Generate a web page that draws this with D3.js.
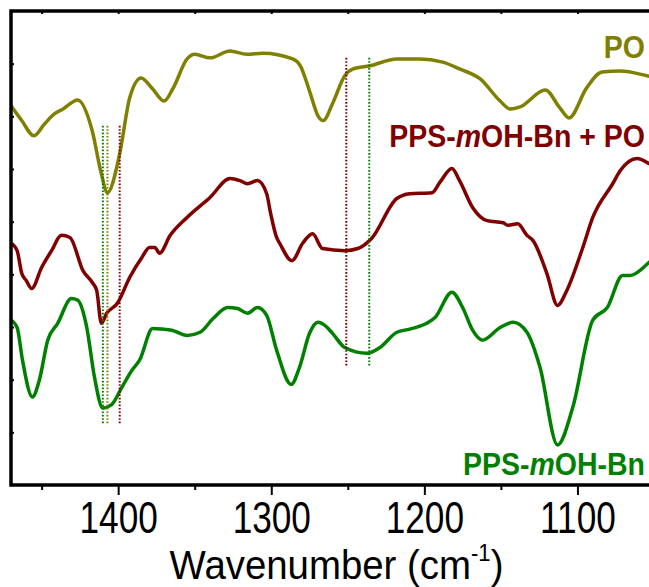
<!DOCTYPE html>
<html>
<head>
<meta charset="utf-8">
<script src="https://cdn.jsdelivr.net/npm/d3@7"></script>
<style>
  body { margin: 0; background: #fff; }
  svg { display: block; font-family: "Liberation Sans", Arial, sans-serif; }
</style>
</head>
<body>
<div id="chart"></div>
<script>
// wavenumber (cm-1) / transmittance (a.u., offset)
const poWave = [1470, 1463, 1455, 1448, 1441.5, 1436, 1426.5, 1417, 1411, 1407, 1399, 1392.5, 1385, 1378, 1370, 1364, 1355, 1350, 1340, 1327, 1316, 1305.5, 1286, 1281, 1275, 1269.5, 1266, 1260, 1252, 1246.5, 1235.5, 1218, 1203, 1188, 1177, 1163.5, 1150.5, 1144, 1137.5, 1121, 1111.5, 1105.5, 1094, 1084, 1072, 1054.5, 1050];
const poVal  = [7.20, 6.92, 6.63, 6.86, 7.05, 7.14, 7.31, 6.73, 5.91, 5.55, 6.29, 7.35, 7.73, 7.54, 7.29, 7.54, 8.09, 8.18, 8.11, 8.24, 8.18, 8.20, 8.09, 7.96, 7.48, 7.01, 6.92, 7.24, 7.77, 7.90, 7.96, 8.09, 8.09, 8.03, 7.90, 7.71, 7.29, 7.14, 7.18, 7.50, 7.16, 6.97, 7.54, 7.84, 7.86, 7.77, 7.74];

const mixWave = [1470, 1466, 1463, 1460, 1456.5, 1450, 1443.5, 1437, 1431.5, 1423, 1416.5, 1414, 1411, 1407.5, 1400.5, 1392.5, 1384.5, 1379.5, 1376, 1373, 1366, 1355, 1340, 1327, 1320.5, 1315.5, 1309, 1303, 1300.5, 1296.5, 1294.5, 1286.5, 1279.5, 1273, 1266.5, 1252, 1243.5, 1234.5, 1218, 1209.5, 1195, 1190, 1182, 1177, 1168.5, 1159, 1148.5, 1145.5, 1139, 1133, 1129, 1120, 1113, 1107, 1096.5, 1090, 1077, 1072, 1061, 1053, 1050];
const mixVal  = [4.59, 4.45, 4.02, 3.88, 3.73, 4.13, 4.45, 4.74, 4.70, 4.07, 3.83, 3.69, 3.07, 3.26, 3.45, 3.94, 4.32, 4.51, 4.51, 4.40, 4.74, 5.08, 5.46, 5.82, 5.78, 5.72, 5.78, 5.53, 5.17, 4.70, 4.59, 4.26, 4.59, 4.77, 4.49, 4.45, 4.49, 4.68, 5.44, 5.53, 5.55, 5.74, 6.01, 5.78, 5.27, 5.02, 4.98, 4.93, 4.96, 4.74, 4.64, 4.02, 3.41, 3.69, 4.51, 5.08, 5.72, 5.97, 6.20, 6.10, 6.05];

const ppsWave = [1470, 1466, 1462.5, 1456, 1451.5, 1446, 1439.5, 1430.5, 1426.5, 1420.5, 1415.5, 1410, 1404.5, 1397.5, 1391, 1386, 1377.5, 1371.5, 1365, 1355, 1346.5, 1338, 1328.5, 1322, 1315.5, 1309, 1303, 1296.5, 1287, 1281.5, 1275, 1269.5, 1265, 1260, 1252, 1237.5, 1229, 1218, 1209.5, 1198.5, 1193, 1182, 1175, 1168.5, 1162, 1150.5, 1142, 1133, 1124.5, 1113, 1103, 1090, 1080.5, 1070.5, 1065.5, 1053, 1050];
const ppsVal  = [3.13, 2.99, 2.37, 1.67, 1.99, 2.75, 3.07, 3.54, 3.51, 2.99, 2.05, 1.46, 1.52, 1.86, 2.18, 2.37, 2.97, 2.96, 2.94, 2.84, 2.90, 3.16, 3.37, 3.35, 3.26, 3.37, 3.22, 2.56, 1.91, 2.24, 2.88, 3.09, 3.03, 2.88, 2.61, 2.50, 2.61, 2.90, 2.96, 3.07, 3.18, 3.66, 3.37, 2.94, 2.75, 2.99, 3.09, 2.90, 2.24, 0.76, 1.48, 3.13, 3.37, 3.98, 3.98, 4.23, 4.30];

// dotted marker lines: wavenumber, colour key, y from / to
const markWave = [1410, 1407, 1399, 1251, 1236];
const markKey  = ["pps", "po", "mix", "mix", "pps"];
const markLow  = [1.14, 1.14, 1.14, 2.24, 2.24];
const markHigh = [6.82, 6.82, 6.82, 8.11, 8.11];

const majorTicks = [1400, 1300, 1200, 1100];
const minorTicks = [1450, 1350, 1250, 1150];
const topTicks   = [1450, 1400, 1350, 1300, 1250, 1200, 1150, 1100];
const yTicks     = [1, 2, 3, 4, 5, 6, 7, 8];

const colors = { po: "#808000", mix: "#800000", pps: "#008000" };

const width = 649, height = 587;
const m = { left: 11, top: 11, bottom: 485, right: 654 };

const svg = d3.select("#chart").append("svg")
  .attr("width", width)
  .attr("height", height);

const x = d3.scaleLinear().domain([1470, 1050]).range([m.left, m.right]);
const y = d3.scaleLinear().domain([0, 9]).range([m.bottom, m.top]);

svg.append("clipPath").attr("id", "clip")
  .append("rect")
  .attr("x", m.left).attr("y", m.top)
  .attr("width", m.right - m.left).attr("height", m.bottom - m.top);

const line = d3.line()
  .x(d => x(d[0]))
  .y(d => y(d[1]))
  .curve(d3.curveMonotoneX);

const series = [
  { key: "po",  data: d3.zip(poWave, poVal) },
  { key: "mix", data: d3.zip(mixWave, mixVal) },
  { key: "pps", data: d3.zip(ppsWave, ppsVal) }
];

const plot = svg.append("g").attr("clip-path", "url(#clip)");

plot.selectAll("path.spec")
  .data(series)
  .enter().append("path")
  .attr("class", "spec")
  .attr("d", d => line(d.data))
  .attr("fill", "none")
  .attr("stroke", d => colors[d.key])
  .attr("stroke-width", 3.5)
  .attr("stroke-linejoin", "round");

plot.selectAll("line.mark")
  .data(markWave)
  .enter().append("line")
  .attr("class", "mark")
  .attr("x1", d => x(d)).attr("x2", d => x(d))
  .attr("y1", (d, i) => y(markHigh[i]))
  .attr("y2", (d, i) => y(markLow[i]))
  .attr("stroke", (d, i) => colors[markKey[i]])
  .attr("stroke-width", 2)
  .attr("stroke-dasharray", "1.6,1.8");

// axes
const tickStyle = g => {
  g.select(".domain").remove();
  g.selectAll("line").attr("stroke", "#000").attr("stroke-width", 2);
};

svg.append("g")
  .attr("transform", `translate(0,${m.bottom})`)
  .call(d3.axisBottom(x).tickValues(minorTicks).tickSize(5).tickFormat(""))
  .call(tickStyle);

const xAxis = svg.append("g")
  .attr("transform", `translate(0,${m.bottom})`)
  .call(d3.axisBottom(x).tickValues(majorTicks).tickSize(10).tickFormat(d3.format("d")))
  .call(tickStyle);

xAxis.selectAll("text")
  .attr("y", 48)
  .attr("dy", 0)
  .attr("fill", "#000")
  .attr("font-size", 44)
  .attr("font-family", "'Liberation Sans', Arial, sans-serif")
  .attr("transform", "scale(0.8,1)");

svg.append("g")
  .attr("transform", `translate(0,${m.top})`)
  .call(d3.axisTop(x).tickValues(topTicks).tickSize(-3).tickFormat(""))
  .call(tickStyle);

svg.append("g")
  .attr("transform", `translate(${m.left},0)`)
  .call(d3.axisLeft(y).tickValues(yTicks).tickSize(-3).tickFormat(""))
  .call(tickStyle);

// frame
svg.append("path")
  .attr("d", `M${m.right},${m.top}H${m.left}V${m.bottom}H${m.right}`)
  .attr("fill", "none")
  .attr("stroke", "#000")
  .attr("stroke-width", 3.5);

// axis title
const title = svg.append("text")
  .attr("transform", `translate(${(m.left + m.right) / 2 + 4},579) scale(0.96,1)`)
  .attr("text-anchor", "middle")
  .attr("font-size", 40);
title.append("tspan").text("Wavenumber (cm");
title.append("tspan").attr("font-size", 23).attr("dy", -18).text("-1");
title.append("tspan").attr("dy", 18).text(")");

// series labels
const labels = [
  { key: "po",  y: 58,  parts: ["PO"] },
  { key: "mix", y: 147, parts: ["PPS-", "m", "OH-Bn + PO"] },
  { key: "pps", y: 475, parts: ["PPS-", "m", "OH-Bn"] }
];

labels.forEach(l => {
  const t = svg.append("text")
    .attr("transform", `translate(645,${l.y}) scale(0.92,1)`)
    .attr("text-anchor", "end")
    .attr("font-size", 31)
    .attr("font-weight", "bold")
    .attr("fill", colors[l.key]);
  l.parts.forEach(p => {
    t.append("tspan")
      .attr("font-style", p === "m" ? "italic" : null)
      .text(p);
  });
});
</script>
</body>
</html>
